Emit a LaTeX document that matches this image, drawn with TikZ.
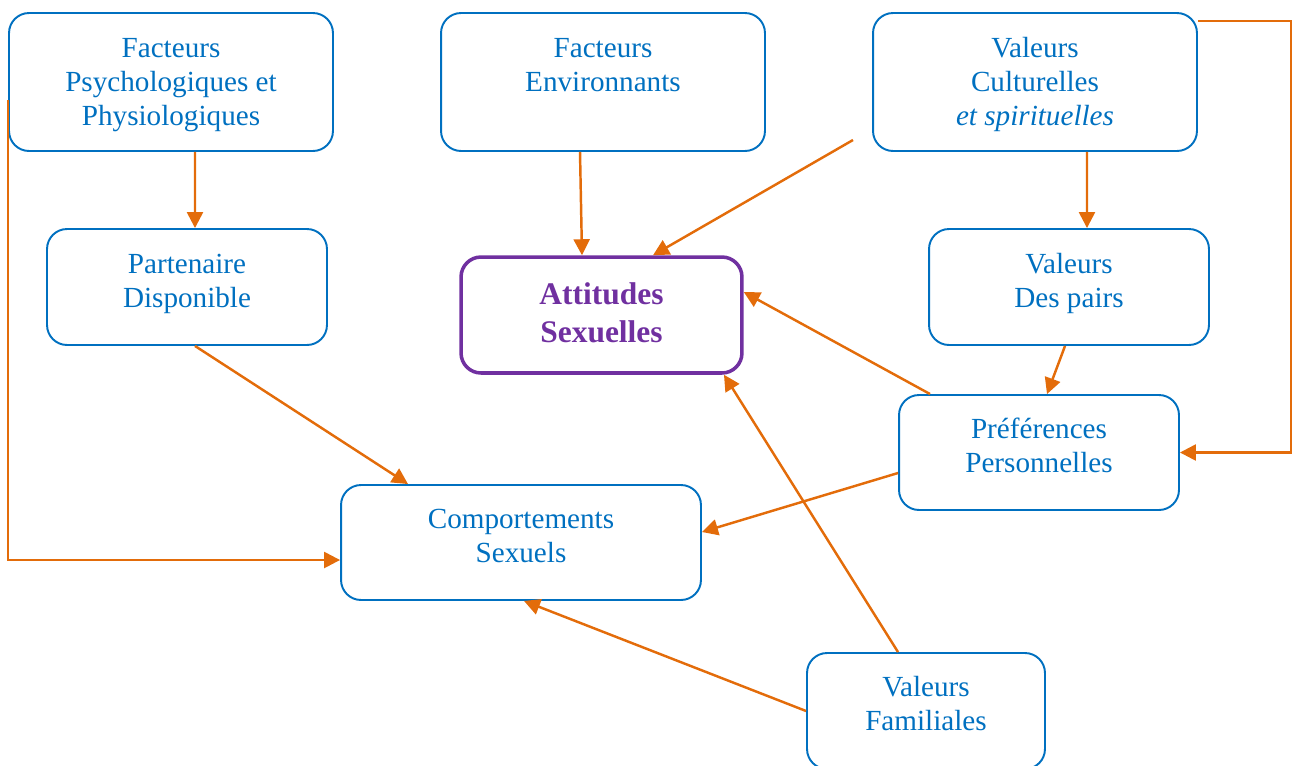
\documentclass[tikz,border=0pt]{standalone}
\usepackage{fontspec}
\setmainfont{Liberation Serif}
\usetikzlibrary{arrows.meta}

\definecolor{bleu}{HTML}{0070C0}
\definecolor{pourpre}{HTML}{7030A0}
\definecolor{orangefonce}{HTML}{E36C0A}

\tikzset{
  boite/.style={draw=bleu, line width=1.1pt, rounded corners=0.4cm, inner sep=0pt},
  titre/.style={anchor=base, align=center, text=bleu, font=\fontsize{16.6}{19.35}\selectfont},
  fleche/.style={->, draw=orangefonce, line width=1.4pt}
}

\begin{document}
\begin{tikzpicture}[x=0.02cm, y=-0.02cm, >={Triangle[length=0.32cm,width=0.32cm]}]
\useasboundingbox (0,0) rectangle (1292,765);

% boites (le texte est place sur la ligne de base de sa derniere ligne)
\node[boite, minimum width=6.48cm, minimum height=2.76cm] (psy) at (171,82) {};
\node[titre] (psy-t) at ([yshift=-2.26cm]psy.north) {Facteurs\\Psychologiques et\\Physiologiques};

\node[boite, minimum width=6.48cm, minimum height=2.76cm] (env) at (603,82) {};
\node[titre] (env-t) at ([yshift=-1.58cm]env.north) {Facteurs\\Environnants};

\node[boite, minimum width=6.48cm, minimum height=2.76cm] (cult) at (1035,82) {};
\node[titre] (cult-t) at ([yshift=-2.26cm]cult.north) {Valeurs\\Culturelles\\\textit{et spirituelles}};

\node[boite, minimum width=5.6cm, minimum height=2.32cm] (part) at (187,287) {};
\node[titre] (part-t) at ([yshift=-1.59cm]part.north) {Partenaire\\Disponible};

\node[boite, draw=pourpre, line width=2pt, minimum width=5.62cm, minimum height=2.32cm] (att) at (601.5,315) {};
\node[titre, text=pourpre, font=\fontsize{17.9}{21.6}\selectfont\bfseries] (att-t) at ([yshift=-1.74cm]att.north) {Attitudes\\Sexuelles};

\node[boite, minimum width=5.6cm, minimum height=2.32cm] (pairs) at (1069,287) {};
\node[titre] (pairs-t) at ([yshift=-1.58cm]pairs.north) {Valeurs\\Des pairs};

\node[boite, minimum width=5.6cm, minimum height=2.3cm] (pref) at (1039,452.5) {};
\node[titre] (pref-t) at ([yshift=-1.56cm]pref.north) {Préférences\\Personnelles};

\node[boite, minimum width=7.2cm, minimum height=2.3cm] (comp) at (521,542.5) {};
\node[titre] (comp-t) at ([yshift=-1.56cm]comp.north) {Comportements\\Sexuels};

\node[boite, minimum width=4.76cm, minimum height=2.32cm] (fam) at (926,711) {};
\node[titre] (fam-t) at ([yshift=-1.56cm]fam.north) {Valeurs\\Familiales};

% fleches
\draw[fleche] ([xshift=0.48cm]psy.south) -- ([xshift=0.16cm]part.north);
\draw[fleche] ([yshift=-0.36cm]psy.west) |- ([yshift=-0.35cm]comp.west);
\draw[fleche] ([xshift=0.16cm]part.south) -- ([xshift=-2.26cm]comp.north);

\draw[fleche] ([xshift=-0.46cm]env.south) -- ([xshift=-0.39cm]att.north);
\coordinate (depart) at (853,140);
\draw[fleche] (depart) -- ([xshift=1.03cm]att.north);

\draw[fleche] ([xshift=1.04cm]cult.south) -- ([xshift=0.36cm]pairs.north);
\draw[fleche] ([yshift=-0.18cm]cult.north east) -- ++(93,0) |- (pref.east);
\draw[fleche] ([xshift=-0.08cm]pairs.south) -- ([xshift=0.16cm]pref.north);

\draw[fleche] ([xshift=-2.18cm]pref.north) -- ([yshift=0.46cm]att.east);
\draw[fleche] ([yshift=-0.41cm]pref.west) -- ([yshift=0.21cm]comp.east);

\draw[fleche] ([xshift=-0.56cm]fam.north) -- ([xshift=2.45cm]att.south);
\draw[fleche] (fam.west) -- ([xshift=0.06cm]comp.south);

\end{tikzpicture}
\end{document}
